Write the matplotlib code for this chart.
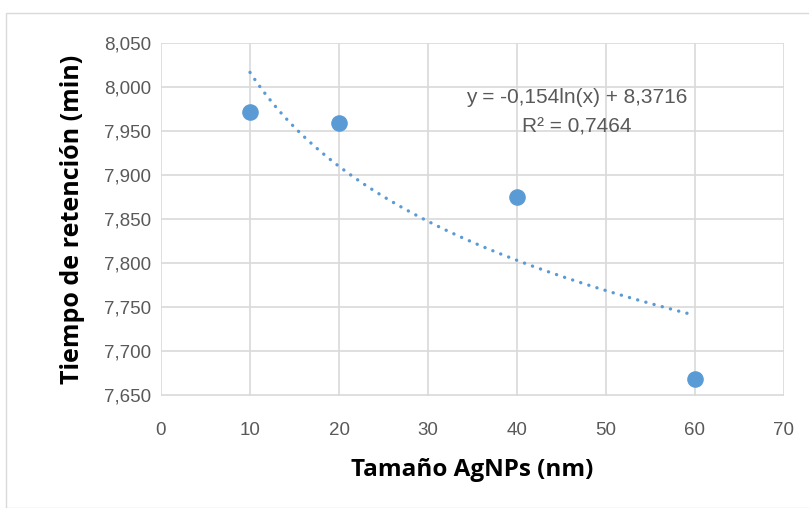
import numpy as np
import matplotlib
matplotlib.use("Agg")
import matplotlib.pyplot as plt
from matplotlib.patches import Rectangle

# data
size_nm = [10, 20, 40, 60]
ret_time = [7.972, 7.960, 7.876, 7.669]
# log trendline shown on the chart
fit_a = -0.154
fit_b = 8.3716
fit_r2 = 0.7464
x_ticks = [0, 10, 20, 30, 40, 50, 60, 70]
y_ticks = [7.650, 7.700, 7.750, 7.800, 7.850, 7.900, 7.950, 8.000, 8.050]

blue = "#5B9BD5"
grey = "#595959"
grid = "#D9D9D9"

plt.rcParams['font.family'] = ['Liberation Sans', 'DejaVu Sans']

fig = plt.figure(figsize=(8.09, 5.08), dpi=100)
# outer chart border
fig.patches.append(Rectangle((6/809, 0), 1.0, 1 - 13/508, transform=fig.transFigure,
                             fill=False, edgecolor=grid, linewidth=1.0))
ax = fig.add_axes([161/809, 1 - 395.5/508, (784 - 161)/809, (395.5 - 43.3)/508])

xs = np.linspace(min(size_nm), max(size_nm), 200)
ax.plot(xs, fit_a * np.log(xs) + fit_b, color=blue, linewidth=2.4,
        linestyle=(0, (0.05, 2.5)), dash_capstyle='round', zorder=3)
ax.scatter(size_nm, ret_time, s=120, color=blue, zorder=4, clip_on=False)

ax.set_xlim(0, 70)
ax.set_ylim(7.650, 8.050)
ax.set_xticks(x_ticks)
ax.set_yticks(y_ticks)
ax.set_yticklabels([f"{v:.3f}".replace(".", ",") for v in y_ticks])
ax.grid(True, color=grid, linewidth=1.2)
ax.set_axisbelow(True)
for s in ax.spines.values():
    s.set_visible(False)
ax.tick_params(length=0, colors=grey, labelsize=13.5)
ax.tick_params(axis='y', pad=7)
ax.tick_params(axis='x', pad=19)

lab_font = ['Open Sans', 'DejaVu Sans']
ax.set_xlabel("Tamaño AgNPs (nm)", fontsize=17.5, fontweight='bold',
              family=lab_font, labelpad=14)
ax.set_ylabel("Tiempo de retención (min)", fontsize=18, fontweight='bold',
              family=lab_font, labelpad=14)

eq = f"y = {fit_a:.3f}ln(x) + {fit_b:.4f}".replace(".", ",")
r2 = f"R² = {fit_r2:.4f}".replace(".", ",")
ax.text(46.7, 7.989, eq, ha='center', va='center', color=grey, fontsize=15)
ax.text(46.7, 7.955, r2, ha='center', va='center', color=grey, fontsize=15)

fig.savefig("out.png", dpi=100)
